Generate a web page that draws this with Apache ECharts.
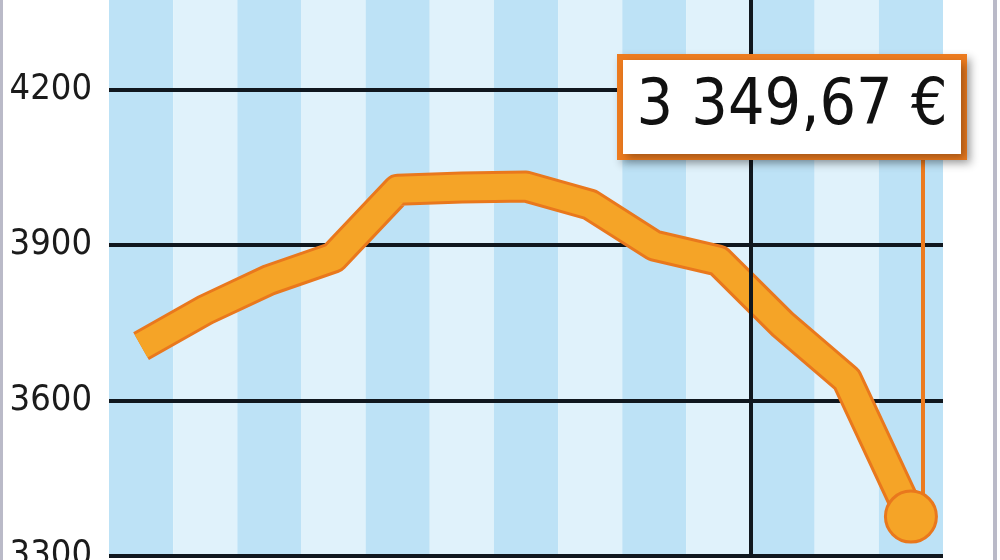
<!DOCTYPE html>
<html><head><meta charset="utf-8">
<script src="https://cdn.jsdelivr.net/npm/echarts@6/dist/echarts.min.js"></script>
<style>html,body{margin:0;padding:0;background:#fff}#c{width:1000px;height:560px}</style>
</head><body><div id="c"></div>
<script>
// 13 periods (monthly), one stripe each
const periods = ['1','2','3','4','5','6','7','8','9','10','11','12','13'];
const values = [3705, 3775, 3833, 3876, 4007, 4011, 4013, 3978, 3899, 3870, 3747, 3641, 3376];
const yTicks = [3300, 3600, 3900, 4200];
const yearBreakIndex = 10;
const lastLabel = '3 349,67 €';
const calloutTopValue = 4070;

const points = values.map((v, i) => [i + 0.5, v]);
const lastPoint = points[points.length - 1];
const yMin = yTicks[0];
const yMax = 4373;

const chart = echarts.init(document.getElementById('c'), null, {renderer: 'canvas'});
const dark = '#bde2f6', light = '#e0f2fb';
const orangeEdge = '#e9781d', orangeFill = '#f5a427';
const narrow = '"Liberation Sans Narrow", "DejaVu Sans Condensed", "Liberation Sans", sans-serif';

chart.setOption({
  animation: false,
  backgroundColor: '#ffffff',
  grid: {left: 109, right: 57, top: 0, bottom: 4, containLabel: false, outerBoundsMode: 'none'},
  xAxis: {
    type: 'value', min: 0, max: periods.length, interval: 1, z: 0,
    axisLabel: {show: false}, axisLine: {show: false}, axisTick: {show: false},
    splitLine: {show: false},
    splitArea: {show: true, areaStyle: {color: [dark, light]}}
  },
  yAxis: {
    type: 'value', min: yMin, max: yMax, interval: 300, z: 1,
    axisLine: {show: false}, axisTick: {show: false},
    axisLabel: {
      margin: 17, color: '#1b1b1b', fontSize: 36, fontFamily: narrow,
      showMaxLabel: false,
      formatter: v => yTicks.includes(v) ? String(v) : ''
    },
    splitLine: {show: true, showMaxLine: false, lineStyle: {color: '#10171e', width: 4}}
  },
  graphic: [
    {type: 'rect', left: 0, top: 0, shape: {width: 3, height: 560}, style: {fill: '#babac8'}},
    {type: 'rect', left: 993, top: 0, shape: {width: 4, height: 560}, style: {fill: '#babac8'}}
  ],
  series: [
    {
      type: 'line', data: [], z: 2,
      markLine: {
        silent: true, symbol: 'none', animation: false,
        label: {show: false},
        lineStyle: {color: '#10171e', width: 4, type: 'solid'},
        data: [{xAxis: yearBreakIndex}]
      }
    },
    {
      type: 'line', data: points, z: 3, showSymbol: false, silent: true,
      lineStyle: {color: orangeEdge, width: 32, join: 'round', cap: 'butt'}
    },
    {
      type: 'line', data: points, z: 4, showSymbol: false, silent: true,
      lineStyle: {color: orangeFill, width: 26, join: 'round', cap: 'butt'},
      markLine: {
        silent: true, symbol: 'none', animation: false,
        label: {show: false},
        lineStyle: {color: '#ec7b1f', width: 4, type: 'solid', opacity: 1},
        data: [[
          {coord: [lastPoint[0] + 0.19, lastPoint[1]]},
          {coord: [lastPoint[0] + 0.19, calloutTopValue]}
        ]]
      }
    },
    {
      type: 'scatter', data: [lastPoint], z: 5, symbolSize: 51,
      itemStyle: {color: orangeFill, borderColor: orangeEdge, borderWidth: 3, opacity: 1},
      label: {
        show: true, formatter: lastLabel, opacity: 1,
        fontSize: 64, fontFamily: narrow, color: '#111111',
        backgroundColor: '#ffffff', borderColor: '#ec7b1f', borderWidth: 6,
        padding: [8, 10], width: 318, height: 78, lineHeight: 78, align: 'center',
        shadowColor: 'rgba(0,0,0,0.3)', shadowBlur: 8, shadowOffsetX: 4, shadowOffsetY: 4
      },
      labelLayout: {x: 792, y: 107, align: 'center', verticalAlign: 'middle'}
    }
  ]
});
</script></body></html>
